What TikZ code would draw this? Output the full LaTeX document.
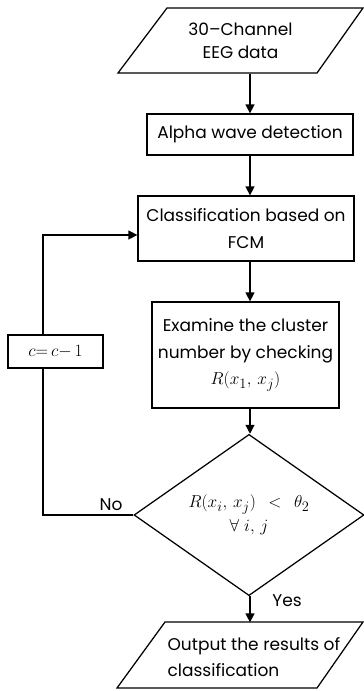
\documentclass[tikz,border=0pt]{standalone}
\usepackage{fontspec}
\setmainfont{Poppins}
\usetikzlibrary{shapes.geometric,arrows.meta,calc}
\newcommand\myfs{\fontsize{17}{26.5}\selectfont}
\newcommand\mathfs{\fontsize{19}{26}\selectfont}
\begin{document}
\begin{tikzpicture}[x=1pt,y=-1pt,line width=1.25pt,
  box/.style={draw,rectangle,inner sep=0pt,align=center,font=\myfs},
  txt/.style={inner sep=0pt,align=center,font=\myfs},
  arr/.style={-{Triangle[length=9pt,width=9pt]}},
  para/.style={line join=miter}]
\useasboundingbox (0,0) rectangle (364,691);
\coordinate (ax) at (250,0);
\coordinate (lx) at (43,0);
% input parallelogram
\draw[para] (167,8) -- (363,8) -- (317,73) -- (118,73) -- cycle;
\node[txt,minimum height=65pt,font=\fontsize{17}{23}\selectfont] (top) at (240.5,40.5) {30–Channel\\EEG data};
\node[box,minimum width=206pt,minimum height=41pt] (alpha) at (250,134.5) {Alpha wave detection};
\node[box,minimum width=216pt,minimum height=65pt] (class) at (246,228.5) {Classification based on\\FCM};
\node[box,minimum width=187pt,minimum height=106pt] (exam) at (245.5,355) {Examine the cluster\\number by checking\\{\mathfs$R(x_1,\,x_j)$}};
\node[draw,diamond,minimum width=230pt,minimum height=130pt,inner sep=0pt,align=center,font=\mathfs] (d) at (249,515) {$R(x_i,\,x_j)\;\,<\;\,\theta_2$\\[-2pt]$\forall\ i,\,j$};
\node[box,minimum width=95pt,minimum height=33pt,fill=white,font=\mathfs] (cbox) at (55.5,351.5) {$c\mathord{=}\,c\mathord{-}\,1$};
% output parallelogram
\draw[para] (165,622) -- (363,622) -- (317,688) -- (117,688) -- cycle;
\node[txt,align=left,anchor=west,minimum height=66pt] (out) at (167,657) {Output the results of\\classification};
% connectors
\draw[arr] (top.south -| ax) -- (alpha.north -| ax);
\draw[arr] (alpha.south -| ax) -- (class.north -| ax);
\draw[arr] (class.south -| ax) -- (exam.north -| ax);
\draw[arr] (exam.south -| ax) -- (d.north -| ax);
\draw[arr] (d.south -| ax) -- ($(out.north -| ax)+(0,-1)$);
\node[txt] (yes) at (287,601) {Yes};
\node[txt] (no) at (111,505) {No};
\draw (d.west) -| (cbox.south -| lx);
\draw[arr] (cbox.north -| lx) |- ($(class.west)+(0,6.5)$);
\end{tikzpicture}
\end{document}
